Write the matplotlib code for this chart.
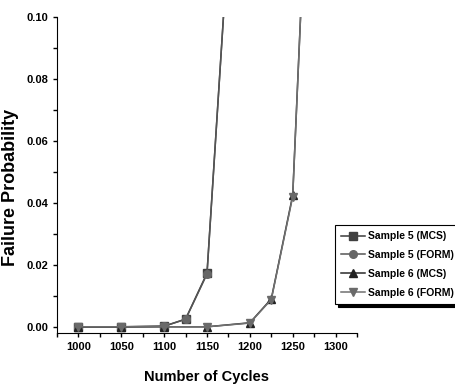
import matplotlib
matplotlib.use("Agg")
import matplotlib.pyplot as plt
from matplotlib.ticker import MultipleLocator, FormatStrFormatter

plt.rcParams['font.family'] = ['Liberation Sans', 'DejaVu Sans']

# data
cycles5 = [1000, 1050, 1100, 1125, 1150, 1175]
mcs5 = [0.0, 0.0, 0.0002, 0.0025, 0.0173, 0.125]
form5 = [0.0, 0.0, 0.0002, 0.0024, 0.0170, 0.125]
cycles6 = [1000, 1050, 1100, 1150, 1200, 1225, 1250, 1275]
mcs6 = [0.0, 0.0, 0.0, 0.0, 0.0013, 0.0090, 0.0424, 0.20]
form6 = [0.0, 0.0, 0.0, 0.0, 0.0012, 0.0088, 0.0420, 0.20]
labels = ["Sample 5 (MCS)", "Sample 5 (FORM)", "Sample 6 (MCS)", "Sample 6 (FORM)"]

fig = plt.figure(figsize=(4.56, 3.89), dpi=100)
ax = fig.add_axes([57 / 456, 1 - 333 / 389, 300 / 456, (333 - 16.7) / 389])

ax.plot(cycles5, mcs5, marker="s", ms=5.5, color="#3a3a3a", mfc="#404040", mec="#404040", lw=1.1, label=labels[0])
ax.plot(cycles5, form5, marker="o", ms=5.5, color="#555555", mfc="#666666", mec="#666666", lw=1.1, label=labels[1])
ax.plot(cycles6, mcs6, marker="^", ms=6, color="#2a2a2a", mfc="#222222", mec="#222222", lw=1.1, label=labels[2])
ax.plot(cycles6, form6, marker="v", ms=6, color="#707070", mfc="#6a6a6a", mec="#6a6a6a", lw=1.1, label=labels[3])

ax.set_xlim(975, 1325)
ax.set_ylim(-0.002, 0.10)
ax.xaxis.set_major_locator(MultipleLocator(50))
ax.xaxis.set_minor_locator(MultipleLocator(25))
ax.yaxis.set_major_locator(MultipleLocator(0.02))
ax.yaxis.set_minor_locator(MultipleLocator(0.01))
ax.yaxis.set_major_formatter(FormatStrFormatter("%.2f"))

ax.spines['top'].set_visible(False)
ax.spines['right'].set_visible(False)
ax.tick_params(which='both', direction='out', length=3, width=1)
ax.tick_params(labelsize=8)
for t in ax.get_xticklabels() + ax.get_yticklabels():
    t.set_fontweight('bold')

ax.set_xlabel("Number of Cycles", fontsize=10.5, fontweight='bold')
ax.xaxis.set_label_coords(0.5, -(370 - 333) / 316.3)
ax.set_ylabel("Failure Probability", fontsize=13, fontweight='bold')
ax.yaxis.set_label_coords(-(57 - 19) / 300, (333 - 187) / 316.3)

leg = ax.legend(loc='upper left', bbox_to_anchor=(335 / 456, 1 - 225 / 389),
                bbox_transform=fig.transFigure, borderaxespad=0,
                prop={'weight': 'bold', 'size': 7.5}, labelspacing=0.85, handlelength=2.3,
                handletextpad=0.25, borderpad=0.6, fancybox=False,
                shadow={'color': 'black', 'alpha': 1})
leg.get_frame().set_edgecolor('black')
leg.get_frame().set_linewidth(0.8)

fig.savefig("out.png", dpi=100)
